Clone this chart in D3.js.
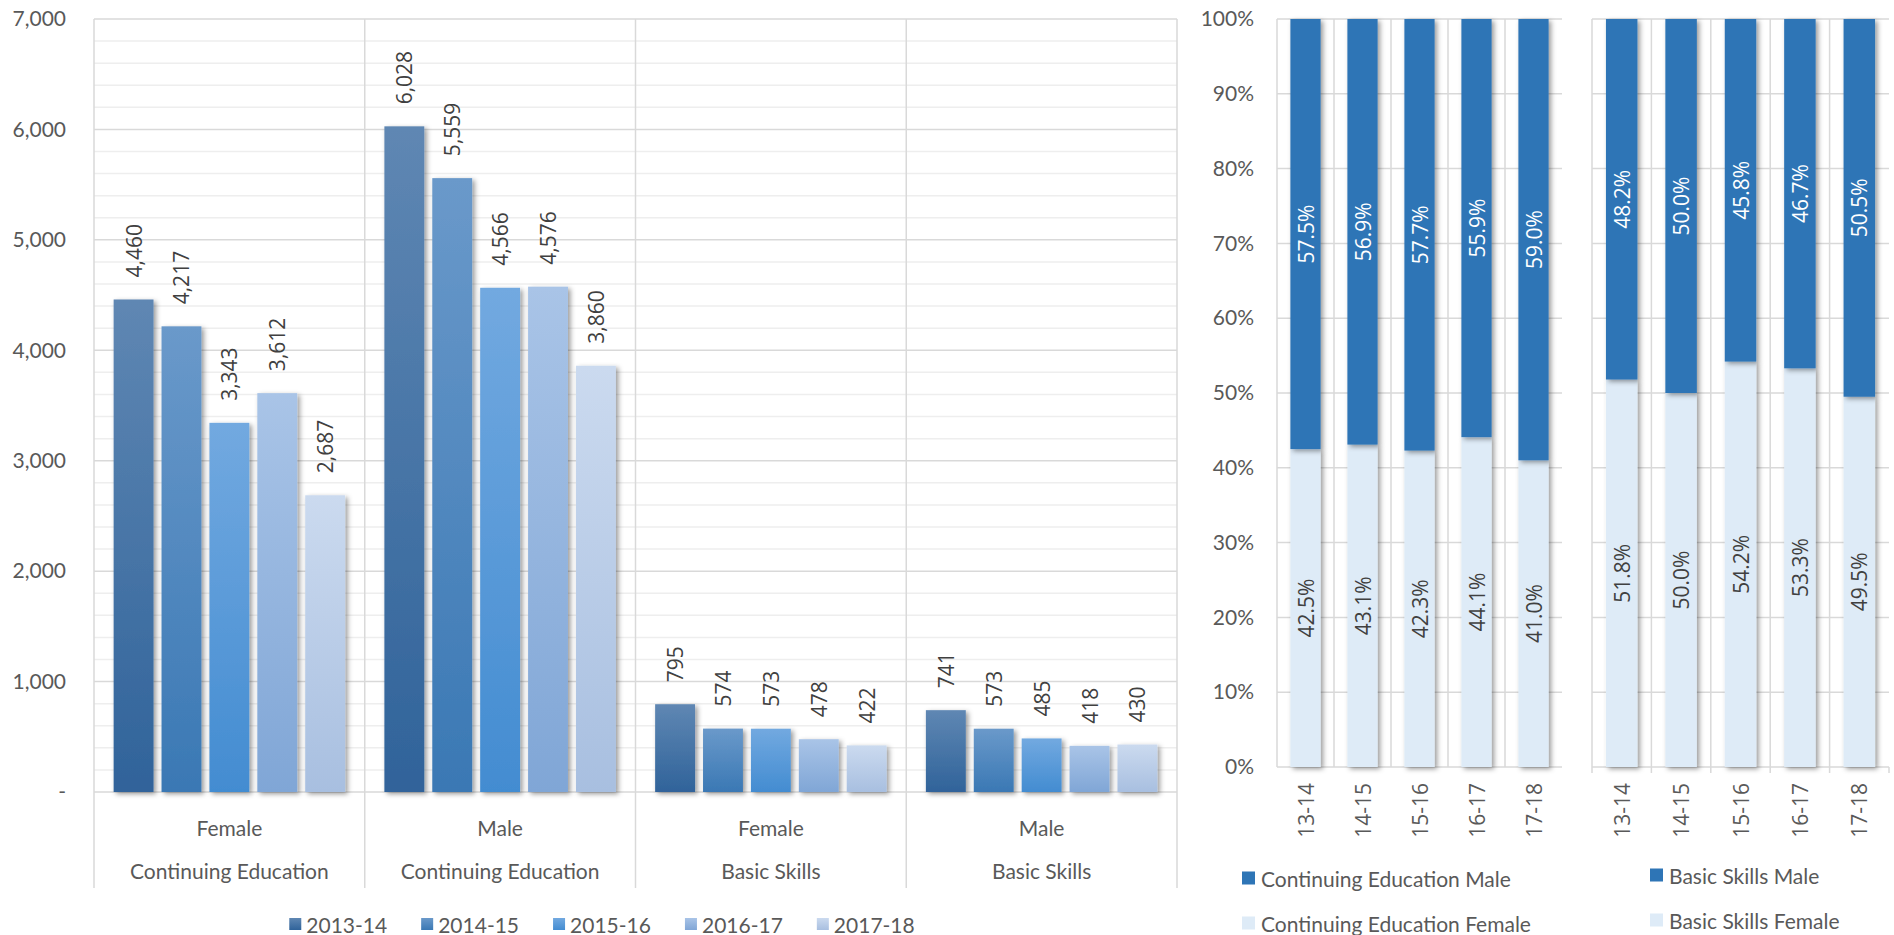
<!DOCTYPE html>
<html>
<head>
<meta charset="utf-8">
<script src="https://cdn.jsdelivr.net/npm/d3@7"></script>
<style>
    html, body { margin: 0; padding: 0; background: #fff; }
    svg { display: block; }
</style>
</head>
<body>
<svg id="chart" width="1894" height="935"></svg>
<script>
// enrollment counts by group and year
const years = ['2013-14', '2014-15', '2015-16', '2016-17', '2017-18'];
const shortYears = ['13-14', '14-15', '15-16', '16-17', '17-18'];
const genderLabels = ['Female', 'Male', 'Female', 'Male'];
const programLabels = ['Continuing Education', 'Continuing Education', 'Basic Skills', 'Basic Skills'];

const ceFemale = [4460, 4217, 3343, 3612, 2687];
const ceMale = [6028, 5559, 4566, 4576, 3860];
const bsFemale = [795, 574, 573, 478, 422];
const bsMale = [741, 573, 485, 418, 430];

const countTicks = [0, 1000, 2000, 3000, 4000, 5000, 6000, 7000];

// gender share (%) per program
const cePctMale = [57.5, 56.9, 57.7, 55.9, 59.0];
const cePctFemale = [42.5, 43.1, 42.3, 44.1, 41.0];
const bsPctMale = [48.2, 50.0, 45.8, 46.7, 50.5];
const bsPctFemale = [51.8, 50.0, 54.2, 53.3, 49.5];

const pctTicks = [0, 10, 20, 30, 40, 50, 60, 70, 80, 90, 100];

const groupValues = [ceFemale, ceMale, bsFemale, bsMale];

const yearColors = [
    ['#5f87b3', '#30639a'],
    ['#6a99ca', '#3a78b4'],
    ['#72a9e0', '#438cd1'],
    ['#a9c4e7', '#80a6d6'],
    ['#cbdaef', '#a8bfe0']
];
const maleColor = '#2e75b6';
const femaleColor = '#deebf7';

const calibri = 'Lato, "Open Sans", sans-serif';
const segoe = '"Open Sans", "Noto Sans", sans-serif';
const axisText = '#595959';
const labelText = '#404040';

const svg = d3.select('#chart');
const defs = svg.append('defs');

const shadow = defs.append('filter')
    .attr('id', 'shadow')
    .attr('filterUnits', 'userSpaceOnUse')
    .attr('x', 0).attr('y', 0)
    .attr('width', 1894).attr('height', 935);
shadow.append('feDropShadow')
    .attr('dx', 2.5)
    .attr('dy', 2)
    .attr('stdDeviation', 2.5)
    .attr('flood-color', '#000')
    .attr('flood-opacity', 0.4);

yearColors.forEach(([top, bottom], i) => {
    const g = defs.append('linearGradient')
        .attr('id', `grad${i}`)
        .attr('x1', 0).attr('y1', 0)
        .attr('x2', 0).attr('y2', 1);
    g.append('stop').attr('offset', '0%').attr('stop-color', top);
    g.append('stop').attr('offset', '100%').attr('stop-color', bottom);
});

// ---------- left: grouped bar chart ----------
const left = { x0: 94, x1: 1177, top: 19, bottom: 792 };

const xGroup = d3.scaleBand()
    .domain(d3.range(groupValues.length))
    .range([left.x0, left.x1]);

const xYear = d3.scaleBand()
    .domain(years)
    .range([0, xGroup.bandwidth()])
    .paddingInner(0.167)
    .paddingOuter(0.41);

const y = d3.scaleLinear()
    .domain([0, 7000])
    .range([left.bottom, left.top]);

const leftGrid = svg.append('g');

leftGrid.selectAll('line.minor')
    .data(d3.range(200, 7000, 200).filter(v => v % 1000 !== 0))
    .enter()
    .append('line')
    .attr('x1', left.x0).attr('x2', left.x1)
    .attr('y1', d => y(d)).attr('y2', d => y(d))
    .attr('stroke', '#eeeeee')
    .attr('stroke-width', 1.5);

leftGrid.selectAll('line.major')
    .data(countTicks)
    .enter()
    .append('line')
    .attr('x1', left.x0).attr('x2', left.x1)
    .attr('y1', d => y(d)).attr('y2', d => y(d))
    .attr('stroke', '#d9d9d9')
    .attr('stroke-width', 1.5);

// group dividers run from the top down through the label rows
leftGrid.selectAll('line.divider')
    .data(d3.range(groupValues.length + 1))
    .enter()
    .append('line')
    .attr('x1', i => left.x0 + i * xGroup.bandwidth())
    .attr('x2', i => left.x0 + i * xGroup.bandwidth())
    .attr('y1', left.top)
    .attr('y2', 888)
    .attr('stroke', '#d9d9d9')
    .attr('stroke-width', 1.5);

const yAxe = d3.axisLeft(y)
    .tickValues(countTicks)
    .tickSize(0)
    .tickPadding(28)
    .tickFormat(v => (v === 0 ? '-' : d3.format(',')(v)));

svg.append('g')
    .attr('transform', `translate(${left.x0},0)`)
    .call(yAxe)
    .call(g => g.select('.domain').remove())
    .selectAll('text')
    .attr('font-family', calibri)
    .attr('font-size', 21)
    .attr('fill', axisText);

const groups = svg.selectAll('g.group')
    .data(groupValues)
    .enter()
    .append('g')
    .attr('class', 'group')
    .attr('transform', (d, i) => `translate(${xGroup(i)},0)`);

groups.selectAll('rect')
    .data(d => d)
    .enter()
    .append('rect')
    .attr('x', (d, i) => xYear(years[i]))
    .attr('width', xYear.bandwidth())
    .attr('y', d => y(d))
    .attr('height', d => y(0) - y(d))
    .attr('fill', (d, i) => `url(#grad${i})`)
    .attr('filter', 'url(#shadow)');

groups.selectAll('text.value')
    .data(d => d)
    .enter()
    .append('text')
    .attr('class', 'value')
    .attr('transform', (d, i) => `translate(${xYear(years[i]) + xYear.bandwidth() / 2},${y(d) - 22}) rotate(-90)`)
    .attr('text-anchor', 'start')
    .attr('dominant-baseline', 'central')
    .attr('font-family', segoe)
    .attr('font-size', 21)
    .attr('fill', labelText)
    .text(d => d3.format(',')(d));

groups.append('text')
    .attr('x', xGroup.bandwidth() / 2)
    .attr('y', 827)
    .attr('text-anchor', 'middle')
    .attr('dominant-baseline', 'central')
    .attr('font-family', calibri)
    .attr('font-size', 21)
    .attr('fill', axisText)
    .text((d, i) => genderLabels[i]);

groups.append('text')
    .attr('x', xGroup.bandwidth() / 2)
    .attr('y', 870)
    .attr('text-anchor', 'middle')
    .attr('dominant-baseline', 'central')
    .attr('font-family', calibri)
    .attr('font-size', 21)
    .attr('fill', axisText)
    .text((d, i) => programLabels[i]);

// legend, centred under the chart
const legendG = svg.append('g').attr('transform', 'translate(0,924)');
const legendItems = legendG.selectAll('g')
    .data(years)
    .enter()
    .append('g');
legendItems.append('rect')
    .attr('y', -6)
    .attr('width', 12)
    .attr('height', 12)
    .attr('fill', (d, i) => `url(#grad${i})`);
legendItems.append('text')
    .attr('x', 17)
    .attr('dominant-baseline', 'central')
    .attr('font-family', calibri)
    .attr('font-size', 21)
    .attr('fill', axisText)
    .text(d => d);

let cursor = 0;
const legendGap = 34;
legendItems.each(function place() {
    const w = 17 + this.querySelector('text').getComputedTextLength();
    d3.select(this).attr('transform', `translate(${cursor},0)`);
    cursor += w + legendGap;
});
legendG.attr('transform', `translate(${602 - (cursor - legendGap) / 2},924)`);

// ---------- right: 100% stacked columns ----------
const yPct = d3.scaleLinear()
    .domain([0, 100])
    .range([767, 19]);

function stackedPanel({ x0, x1, female, male, ticks, showAxis, legendX, legendY, names }) {
    const x = d3.scaleBand()
        .domain(shortYears)
        .range([x0, x1])
        .paddingInner(0.47)
        .paddingOuter(0.235);
    const step = x.step();
    const panel = svg.append('g');

    panel.selectAll('line.h')
        .data(pctTicks)
        .enter()
        .append('line')
        .attr('x1', x0).attr('x2', x1)
        .attr('y1', d => yPct(d)).attr('y2', d => yPct(d))
        .attr('stroke', '#d9d9d9')
        .attr('stroke-width', 1.5);

    panel.selectAll('line.v')
        .data(d3.range(shortYears.length))
        .enter()
        .append('line')
        .attr('x1', i => x0 + i * step)
        .attr('x2', i => x0 + i * step)
        .attr('y1', yPct(100))
        .attr('y2', yPct(0) + (ticks ? 6 : 0))
        .attr('stroke', '#d9d9d9')
        .attr('stroke-width', 1.5);

    if (ticks) {
        panel.append('line')
            .attr('x1', x1).attr('x2', x1)
            .attr('y1', yPct(0)).attr('y2', yPct(0) + 6)
            .attr('stroke', '#d9d9d9')
            .attr('stroke-width', 1.5);
    }

    if (showAxis) {
        panel.append('g')
            .attr('transform', `translate(${x0},0)`)
            .call(d3.axisLeft(yPct).tickValues(pctTicks).tickSize(0).tickPadding(23).tickFormat(v => `${v}%`))
            .call(g => g.select('.domain').remove())
            .selectAll('text')
            .attr('font-family', calibri)
            .attr('font-size', 21)
            .attr('fill', axisText);
    }

    panel.selectAll('rect.female')
        .data(female)
        .enter()
        .append('rect')
        .attr('x', (d, i) => x(shortYears[i]))
        .attr('width', x.bandwidth())
        .attr('y', d => yPct(d))
        .attr('height', d => yPct(0) - yPct(d))
        .attr('fill', femaleColor)
        .attr('filter', 'url(#shadow)');

    panel.selectAll('rect.male')
        .data(male)
        .enter()
        .append('rect')
        .attr('x', (d, i) => x(shortYears[i]))
        .attr('width', x.bandwidth())
        .attr('y', (d, i) => yPct(female[i] + d))
        .attr('height', (d, i) => yPct(female[i]) - yPct(female[i] + d))
        .attr('fill', maleColor)
        .attr('filter', 'url(#shadow)');

    panel.selectAll('text.female')
        .data(female)
        .enter()
        .append('text')
        .attr('transform', (d, i) => `translate(${x(shortYears[i]) + x.bandwidth() / 2},${yPct(d / 2)}) rotate(-90)`)
        .attr('text-anchor', 'middle')
        .attr('dominant-baseline', 'central')
        .attr('font-family', segoe)
        .attr('font-size', 21)
        .attr('fill', labelText)
        .text(d => `${d.toFixed(1)}%`);

    panel.selectAll('text.male')
        .data(male)
        .enter()
        .append('text')
        .attr('transform', (d, i) => `translate(${x(shortYears[i]) + x.bandwidth() / 2},${yPct(female[i] + d / 2)}) rotate(-90)`)
        .attr('text-anchor', 'middle')
        .attr('dominant-baseline', 'central')
        .attr('font-family', segoe)
        .attr('font-size', 21)
        .attr('fill', '#ffffff')
        .text(d => `${d.toFixed(1)}%`);

    panel.selectAll('text.tick')
        .data(shortYears)
        .enter()
        .append('text')
        .attr('transform', d => `translate(${x(d) + x.bandwidth() / 2},783) rotate(-90)`)
        .attr('text-anchor', 'end')
        .attr('dominant-baseline', 'central')
        .attr('font-family', segoe)
        .attr('font-size', 21)
        .attr('fill', axisText)
        .text(d => d);

    const legend = panel.selectAll('g.legend')
        .data(names)
        .enter()
        .append('g')
        .attr('transform', (d, i) => `translate(${legendX},${legendY + i * 45})`);
    legend.append('rect')
        .attr('y', -6.5)
        .attr('width', 13)
        .attr('height', 13)
        .attr('fill', (d, i) => (i === 0 ? maleColor : femaleColor));
    legend.append('text')
        .attr('x', 19)
        .attr('dominant-baseline', 'central')
        .attr('font-family', calibri)
        .attr('font-size', 21)
        .attr('fill', axisText)
        .text(d => d);
}

stackedPanel({
    x0: 1277,
    x1: 1562,
    female: cePctFemale,
    male: cePctMale,
    ticks: false,
    showAxis: true,
    legendX: 1242,
    legendY: 878,
    names: ['Continuing Education Male', 'Continuing Education Female']
});

stackedPanel({
    x0: 1592,
    x1: 1889,
    female: bsPctFemale,
    male: bsPctMale,
    ticks: true,
    showAxis: false,
    legendX: 1650,
    legendY: 875,
    names: ['Basic Skills Male', 'Basic Skills Female']
});
</script>
</body>
</html>
